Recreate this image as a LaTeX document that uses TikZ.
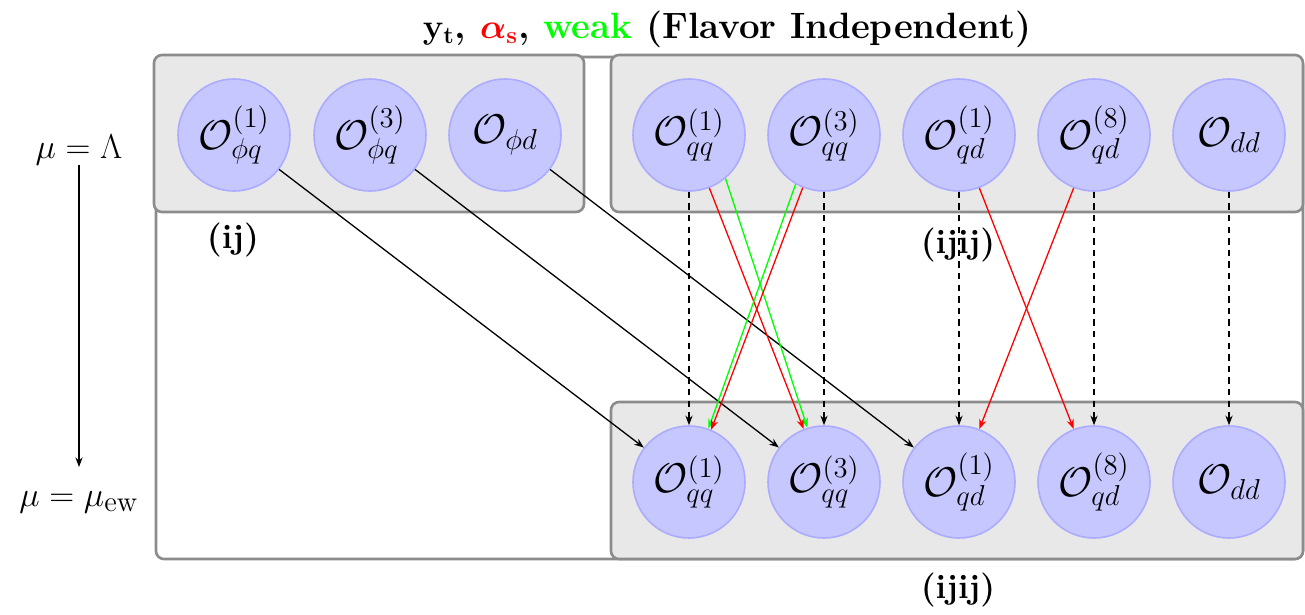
\documentclass[tikz,border=0pt]{standalone}
\usetikzlibrary{arrows.meta}
\begin{document}
\begin{tikzpicture}[x=0.5pt,y=-0.5pt,
  every node/.style={font=\fontsize{17}{20}\selectfont},
  op/.style={circle, minimum size=56pt, inner sep=0pt, fill=blue!22, draw=blue!33, line width=0.8pt, font=\fontsize{22.5}{26}\selectfont},
  grpbox/.style={rounded corners=4pt, fill=black!9, draw=black!45, line width=1.3pt},
  outerbox/.style={rounded corners=4pt, fill=white, draw=black!45, line width=1.3pt},
  arr/.style={-{Stealth[length=4.8pt,width=3.6pt]}, line width=0.65pt},
  darr/.style={arr, dash pattern=on 3.2pt off 2.6pt},
  lbl/.style={font=\fontsize{17}{20}\selectfont\bfseries},
  scl/.style={font=\fontsize{19}{22}\selectfont},
]
\useasboundingbox (0,0) rectangle (1305,615);
% frames
\draw[outerbox] (156,57) rectangle (1303,559);
\draw[grpbox] (154,55) rectangle (584,212);
\draw[grpbox] (611,55) rectangle (1303,212);
\draw[grpbox] (611,402) rectangle (1303,559);
% top row
\node[op] (a1) at (234,135) {$\mathcal{O}^{(1)}_{\phi q}$};
\node[op] (a2) at (370,135) {$\mathcal{O}^{(3)}_{\phi q}$};
\node[op] (a3) at (505,135) {$\mathcal{O}_{\phi d}$};
\node[op] (t1) at (689,135) {$\mathcal{O}^{(1)}_{qq}$};
\node[op] (t2) at (824,135) {$\mathcal{O}^{(3)}_{qq}$};
\node[op] (t3) at (959,135) {$\mathcal{O}^{(1)}_{qd}$};
\node[op] (t4) at (1094,135) {$\mathcal{O}^{(8)}_{qd}$};
\node[op] (t5) at (1229,135) {$\mathcal{O}_{dd}$};
% bottom row
\node[op] (b1) at (689,482) {$\mathcal{O}^{(1)}_{qq}$};
\node[op] (b2) at (824,482) {$\mathcal{O}^{(3)}_{qq}$};
\node[op] (b3) at (959,482) {$\mathcal{O}^{(1)}_{qd}$};
\node[op] (b4) at (1094,482) {$\mathcal{O}^{(8)}_{qd}$};
\node[op] (b5) at (1229,482) {$\mathcal{O}_{dd}$};
% labels
\node[lbl, font=\fontsize{18.3}{21}\selectfont\bfseries] (title) at (727,29) {$\mathbf{y_t}$, \textcolor{red}{\boldmath$\alpha_{\mathbf{s}}$}, \textcolor{green}{weak} (Flavor Independent)};
\node[lbl] (ij) at (233,240) {(ij)};
\node[lbl] (ijij1) at (958,245) {(ijij)};
\node[lbl] (ijij2) at (958,590) {(ijij)};
\node[scl] (muL) at (79,150) {$\mu=\Lambda$};
\node[scl] (muE) at (79,502) {$\mu=\mu_{\mathrm{ew}}$};
\coordinate (muA) at (79,165);
\coordinate (muB) at (79,467);
\draw[arr] (muA) -- (muB);
% dashed vertical
\foreach \i in {1,...,5} { \draw[darr] (t\i.south) -- (b\i.north); }
% black
\draw[arr] (a1) -- (b1);
\draw[arr] (a2) -- (b2);
\draw[arr] (a3) -- (b3);
% red / green crossings
\draw[arr, green] (t1.-50) -- (b2.107);
\draw[arr, red] (t1.-69) -- (b2.111);
\draw[arr, green] (t2.-120) -- (b1.70);
\draw[arr, red] (t2.-112) -- (b1.67);
\draw[arr, red] (t3.-69) -- (b4.111);
\draw[arr, red] (t4.-111) -- (b3.69);
\end{tikzpicture}
\end{document}
